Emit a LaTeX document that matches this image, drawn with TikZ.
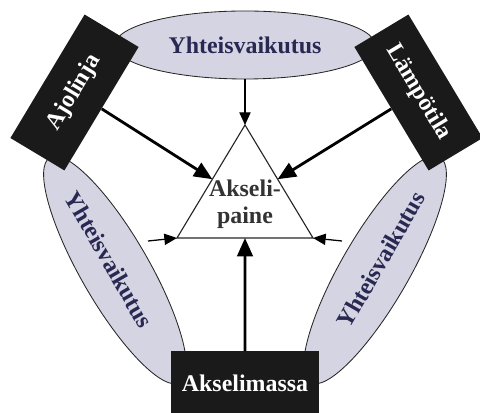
\documentclass[tikz,border=0pt]{standalone}
\usepackage{fontspec}
\setmainfont{Liberation Serif}
\usetikzlibrary{shapes.geometric,arrows.meta,calc}
\definecolor{yvfill}{RGB}{212,212,226}
\definecolor{yvtext}{RGB}{40,40,82}
\definecolor{tekijafill}{RGB}{26,26,26}
\tikzset{
	yv/.style={ellipse,draw=black!85,line width=.6pt,fill=yvfill,text=yvtext,minimum width=6.5cm,minimum height=1.7cm,inner sep=0pt,font=\fontsize{17}{19}\selectfont\bfseries},
	tekija/.style={rectangle,fill=tekijafill,text=white,minimum width=3.6cm,minimum height=1.575cm,inner sep=0pt,font=\fontsize{17}{19}\selectfont\bfseries},
	ohut/.style={line width=.9pt,-{Triangle[length=9pt,width=8pt]}},
	paksu/.style={line width=2pt,-{Triangle[length=13pt,width=11pt]}}
}
\begin{document}
\begin{tikzpicture}[x=0.025cm,y=0.025cm]
	\useasboundingbox (0,0) rectangle (480,413);
	% yhteisvaikutukset
	\node[yv] (yvyla) at (245,368) {Yhteisvaikutus};
	\node[yv,rotate=-60] (yvvasen) at (115,143) {Yhteisvaikutus\hspace*{17pt}};
	\node[yv,rotate=60] (yvoikea) at (375,143) {\hspace*{17pt}Yhteisvaikutus};
	% kolmio
	\coordinate (karki) at (245,288);
	\coordinate (vasen) at (177,175);
	\coordinate (oikea) at (313,175);
	\draw[line width=.8pt,black!85] (karki) -- (vasen) -- (oikea) -- cycle;
	\node[align=center,text=black!80,font=\fontsize{17}{19.5}\selectfont\bfseries] (paino) at (245,209) {Akseli-\\paine};
	\coordinate (vapaa) at (148,172);
	\coordinate (oapaa) at (342,172);
	\draw[ohut] (yvyla.south) -- (karki);
	\draw[ohut] (vapaa) -- (vasen);
	\draw[ohut] (oapaa) -- (oikea);
	% tekijat
	\node[tekija,rotate=59] (ajolinja) at (74.5,320.5) {Ajolinja};
	\node[tekija,rotate=-59] (lampotila) at (418.5,320.5) {Lämpötila};
	\node[tekija,minimum width=3.7cm] (massa) at (245,30) {Akselimassa};
	\draw[paksu] (ajolinja.south) -- ($(vasen)!.52!(karki)$);
	\draw[paksu] (lampotila.south) -- ($(oikea)!.52!(karki)$);
	\draw[paksu] (massa.north) -- ($(vasen)!.5!(oikea)$);
\end{tikzpicture}
\end{document}
